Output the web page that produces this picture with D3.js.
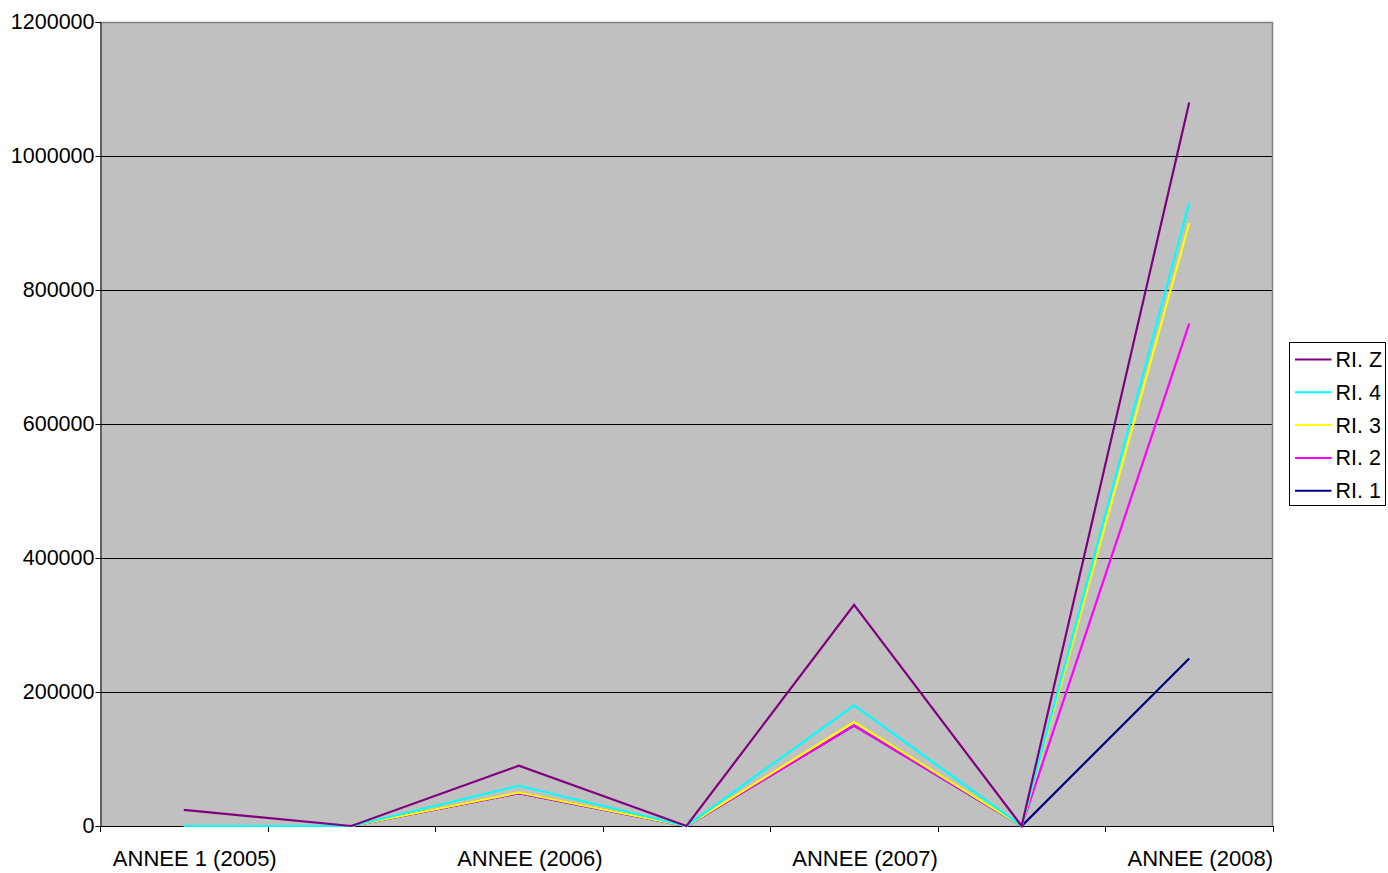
<!DOCTYPE html>
<html>
<head>
<meta charset="utf-8">
<script src="https://cdn.jsdelivr.net/npm/d3@7"></script>
<style>
  html, body { margin: 0; padding: 0; background: #fff; }
  svg { display: block; font-family: "Liberation Sans", Arial, sans-serif; }
</style>
</head>
<body>
<svg id="chart" width="1388" height="873"></svg>
<script>
// Categories along the x axis (every other slot carries no label)
const categories = ["ANNEE 1 (2005)", "", "ANNEE (2006)", "", "ANNEE (2007)", "", "ANNEE (2008)"];

// Series values, in drawing order (the last one is drawn on top)
const seriesNames = ["RI. 1", "RI. 2", "RI. 3", "RI. 4", "RI. Z"];
const ri1 = [0, 0, 49000, 0, 150000, 0, 250000];
const ri2 = [0, 0, 49000, 0, 150000, 0, 750000];
const ri3 = [0, 0, 50000, 0, 155000, 0, 900000];
const ri4 = [0, 0, 60000, 0, 180000, 0, 930000];
const riZ = [24000, 0, 90000, 0, 330000, 0, 1080000];
const seriesColors = ["#000080", "#FF00FF", "#FFFF00", "#00FFFF", "#800080"];

// Y axis ticks
const yTicks = [0, 200000, 400000, 600000, 800000, 1000000, 1200000];

const series = [ri1, ri2, ri3, ri4, riZ].map((values, i) => ({
  name: seriesNames[i], color: seriesColors[i], values
}));

const svg = d3.select("#chart");
const plot = { left: 100, top: 22, right: 1273, bottom: 826 };

const x = d3.scalePoint()
  .domain(d3.range(categories.length))
  .range([plot.left, plot.right])
  .padding(0.5);

const y = d3.scaleLinear()
  .domain([0, 1200000])
  .range([plot.bottom, plot.top]);

// Plot background
svg.append("rect")
  .attr("x", plot.left).attr("y", plot.top)
  .attr("width", plot.right - plot.left).attr("height", plot.bottom - plot.top)
  .attr("fill", "#C0C0C0");

// Gridlines
svg.append("g")
  .selectAll("line")
  .data(yTicks.filter(d => d > 0 && d < 1200000))
  .join("line")
  .attr("x1", plot.left).attr("x2", plot.right)
  .attr("y1", d => Math.round(y(d)) + 0.5).attr("y2", d => Math.round(y(d)) + 0.5)
  .attr("stroke", "#000").attr("stroke-width", 1);

// Plot frame: top and right edges in grey
svg.append("path")
  .attr("d", `M${plot.left},${plot.top + 0.5}H${plot.right - 0.5}V${plot.bottom}`)
  .attr("fill", "none").attr("stroke", "#808080").attr("stroke-width", 1.5);

// Y axis
const yAxis = d3.axisLeft(y)
  .tickValues(yTicks)
  .tickSize(5)
  .tickPadding(1)
  .tickFormat(d3.format("d"));

const gy = svg.append("g")
  .attr("transform", `translate(${plot.left + 0.5},0)`)
  .call(yAxis);
gy.select(".domain").attr("stroke", "#000");
gy.selectAll(".tick line").attr("stroke", "#000");
gy.selectAll(".tick text")
  .attr("fill", "#000")
  .style("font-size", "21.5px")
  .style("font-family", "'Liberation Sans', Arial, sans-serif");

// X axis: ticks at category boundaries, labels under categories
const step = x.step();
const boundaries = d3.range(categories.length + 1).map(i => plot.left + i * step);

const gx = svg.append("g");
gx.append("line")
  .attr("x1", plot.left).attr("x2", plot.right)
  .attr("y1", plot.bottom + 0.5).attr("y2", plot.bottom + 0.5)
  .attr("stroke", "#000").attr("stroke-width", 1);
gx.selectAll("line.tick")
  .data(boundaries)
  .join("line")
  .attr("class", "tick")
  .attr("x1", d => Math.round(d) + 0.5).attr("x2", d => Math.round(d) + 0.5)
  .attr("y1", plot.bottom).attr("y2", plot.bottom + 6)
  .attr("stroke", "#000");
gx.selectAll("text")
  .data(categories.map((c, i) => ({ c, i })).filter(d => d.c !== ""))
  .join("text")
  .attr("x", d => x(d.i) + 11)
  .attr("y", 866)
  .attr("text-anchor", "middle")
  .attr("fill", "#000")
  .style("font-size", "22px")
  .text(d => d.c);

// Lines, drawn over the axes
const line = d3.line()
  .x((d, i) => x(i))
  .y(d => y(d));

svg.append("g")
  .selectAll("path")
  .data(series)
  .join("path")
  .attr("d", d => line(d.values))
  .attr("fill", "none")
  .attr("stroke", d => d.color)
  .attr("stroke-width", 2.2)
  .attr("stroke-linejoin", "miter");

// Legend (top series first)
const legendItems = series.slice().reverse();
const legend = svg.append("g").attr("transform", "translate(1289.5,342.5)");
legend.append("rect")
  .attr("width", 96).attr("height", 163)
  .attr("fill", "#fff").attr("stroke", "#000").attr("stroke-width", 1);
const li = legend.selectAll("g.item")
  .data(legendItems)
  .join("g")
  .attr("class", "item")
  .attr("transform", (d, i) => `translate(0,${17 + i * 32.8})`);
li.append("line")
  .attr("x1", 5.5).attr("x2", 42)
  .attr("stroke", d => d.color).attr("stroke-width", 2);
li.append("text")
  .attr("x", 46).attr("y", 0)
  .attr("dy", "0.35em")
  .attr("fill", "#000")
  .style("font-size", "21.5px")
  .text(d => d.name);
</script>
</body>
</html>
